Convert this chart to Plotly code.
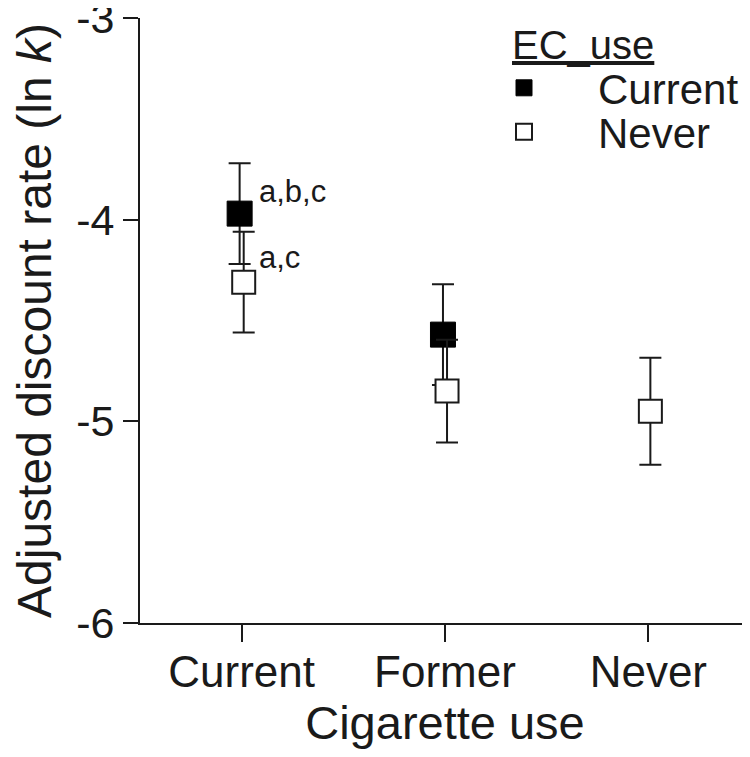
import plotly.graph_objects as go

# cigarette use categories on the x axis
cig_use = ["Current", "Former", "Never"]

# EC use = Current (filled squares), only for current/former smokers
ec_current_cig = ["Current", "Former"]
ec_current_mean = [-3.97, -4.57]
ec_current_err = [0.25, 0.25]

# EC use = Never (hollow squares)
ec_never_cig = ["Current", "Former", "Never"]
ec_never_mean = [-4.31, -4.85, -4.95]
ec_never_err = [0.25, 0.255, 0.265]

y_ticks = [-3, -4, -5, -6]
y_tick_text = ["-3", "-4", "-5", "-6"]

FONT = "Liberation Sans, Arial, sans-serif"
INK = "#1a1a1a"
# the page body has an 8px margin, so the figure is drawn 8px in from the window edge
OFF = 8
W, H = 750 - OFF, 757 - OFF
PL, PR, PT, PB = 132, 742, 10, 615  # plot area in figure pixels


def pos(cats, shift):
	return [cig_use.index(c) + shift for c in cats]


fig = go.Figure()
fig.add_trace(go.Scatter(
	x=pos(ec_current_cig, -0.01), y=ec_current_mean,
	mode="markers", name="Current", legend="legend",
	marker=dict(symbol="square", size=25, color="black", line=dict(color="black", width=1)),
	error_y=dict(type="data", array=ec_current_err, color=INK, thickness=2, width=11),
))
fig.add_trace(go.Scatter(
	x=pos(ec_never_cig, 0.01), y=ec_never_mean,
	mode="markers", name="Never", legend="legend2",
	marker=dict(symbol="square", size=23, color="white", line=dict(color=INK, width=2)),
	error_y=dict(type="data", array=ec_never_err, color=INK, thickness=2, width=11),
))

fig.add_annotation(x=0.075, y=-3.86, text="a,b,c", showarrow=False, xanchor="left",
	font=dict(size=31, color=INK, family=FONT))
fig.add_annotation(x=0.075, y=-4.19, text="a,c", showarrow=False, xanchor="left",
	font=dict(size=31, color=INK, family=FONT))
# legend heading
fig.add_annotation(
	x=(510 - OFF - PL) / (PR - PL), y=(PB - (45 - OFF)) / (PB - PT),
	xref="paper", yref="paper", xanchor="left", yanchor="middle",
	text="<u>EC_use</u>", showarrow=False, font=dict(size=40, color=INK, family=FONT))


def legend_box(y_center):
	return dict(
		x=(450 - OFF) / W, y=1 - (y_center - OFF) / H, xref="container", yref="container",
		xanchor="left", yanchor="middle", font=dict(size=42, color=INK, family=FONT),
		itemwidth=138, bgcolor="rgba(0,0,0,0)", borderwidth=0,
	)


fig.update_layout(
	width=W, height=H,
	margin=dict(l=PL, r=W - PR, t=PT, b=H - PB, autoexpand=False),
	paper_bgcolor="white", plot_bgcolor="white",
	font=dict(family=FONT, color=INK, size=44),
	showlegend=True,
	legend=legend_box(88),
	legend2=legend_box(132),
	xaxis=dict(
		range=[-0.5, 2.5], tickmode="array", tickvals=list(range(len(cig_use))), ticktext=cig_use,
		showline=True, linecolor=INK, linewidth=2, ticks="outside", ticklen=17, tickwidth=2,
		tickcolor=INK, showgrid=False, zeroline=False, tickfont=dict(size=44), automargin=False,
		ticklabelstandoff=-8,
		title=dict(text="Cigarette use", font=dict(size=47), standoff=8),
	),
	yaxis=dict(
		range=[-6, -3], tickmode="array", tickvals=y_ticks, ticktext=y_tick_text,
		showline=True, linecolor=INK, linewidth=2, automargin=False, ticklabeloverflow="allow",
		ticks="outside", ticklen=15, tickwidth=2, tickcolor=INK, showgrid=False, zeroline=False,
		tickfont=dict(size=43),
		title=dict(text="Adjusted discount rate (ln <i>k</i>)", font=dict(size=48), standoff=20),
	),
)

fig.write_html("out.html")
